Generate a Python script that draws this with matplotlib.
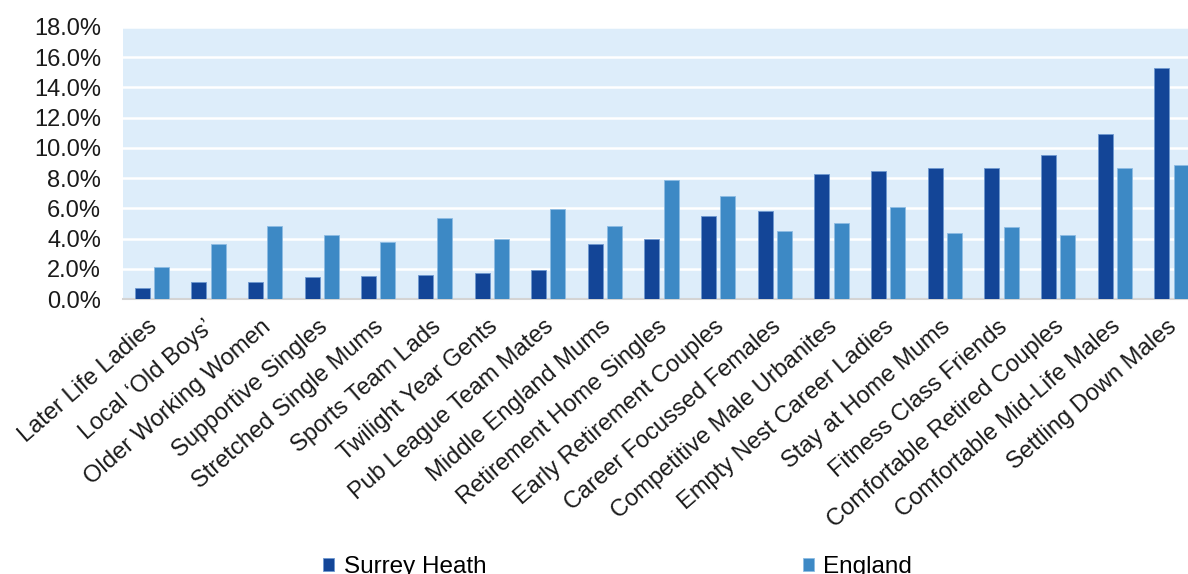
import numpy as np
import matplotlib.pyplot as plt
from matplotlib.ticker import FuncFormatter

plt.rcParams['font.family'] = ['Liberation Sans', 'DejaVu Sans']

groups = ["Later Life Ladies", "Local \u2018Old Boys\u2019", "Older Working Women",
          "Supportive Singles", "Stretched Single Mums", "Sports Team Lads",
          "Twilight Year Gents", "Pub League Team Mates", "Middle England Mums",
          "Retirement Home Singles", "Early Retirement Couples",
          "Career Focussed Females", "Competitive Male Urbanites",
          "Empty Nest Career Ladies", "Stay at Home Mums", "Fitness Class Friends",
          "Comfortable Retired Couples", "Comfortable Mid-Life Males",
          "Settling Down Males"]
surrey_heath = [0.75, 1.1, 1.1, 1.45, 1.55, 1.6, 1.7, 1.95, 3.65, 4.0, 5.5, 5.85,
                8.3, 8.5, 8.65, 8.65, 9.5, 10.95, 15.3]
england = [2.1, 3.65, 4.85, 4.25, 3.8, 5.35, 4.0, 5.95, 4.85, 7.9, 6.8, 4.5,
           5.0, 6.1, 4.4, 4.75, 4.25, 8.65, 8.9]

sh_col = '#134597'
en_col = '#3D89C5'

fig = plt.figure(figsize=(11.88, 5.74), dpi=100)
ax = fig.add_axes([0.1039, 0.479, 0.906, 0.474])
ax.set_facecolor('#DDEDFA')

x = np.arange(len(groups))
w = 0.265
ax.bar(x - 0.17, surrey_heath, w, color=sh_col, edgecolor='#6E98D0', linewidth=0.6,
       label='Surrey Heath', zorder=3)
ax.bar(x + 0.17, england, w, color=en_col, edgecolor='#8DBCE3', linewidth=0.6,
       label='England', zorder=3)

ax.set_xlim(-0.5, len(groups) - 0.5)
ax.set_ylim(0, 18)
ax.set_yticks(np.arange(0, 19, 2))
ax.yaxis.set_major_formatter(FuncFormatter(lambda v, p: f"{v:.1f}%"))
ax.grid(axis='y', color='white', linewidth=1.8, zorder=1)
ax.set_axisbelow(True)
for s in ['top', 'right', 'left']:
    ax.spines[s].set_visible(False)
ax.spines['bottom'].set_color('#D4D4D4')
ax.spines['bottom'].set_linewidth(1.5)
ax.tick_params(axis='y', length=0, pad=16, labelsize=17, labelcolor='#1a1a1a')
ax.tick_params(axis='x', length=0, pad=12)
ax.set_xticks(x - 0.08)
ax.set_xticklabels(groups, rotation=41, ha='right', rotation_mode='anchor',
                   fontsize=17, color='#1a1a1a')

fig.legend(loc='center', bbox_to_anchor=(0.52, 0.012), ncol=2, frameon=False,
           fontsize=17.5, handlelength=0.45, handleheight=0.45, handletextpad=0.4,
           columnspacing=13.0)

fig.savefig('out.png', dpi=100)
